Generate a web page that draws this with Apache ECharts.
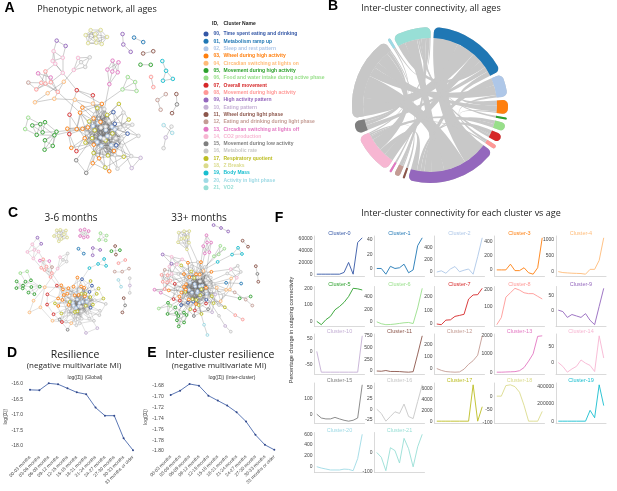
<!DOCTYPE html>
<html>
<head>
<meta charset="utf-8">
<title>Phenotypic network</title>
<script src="https://cdn.jsdelivr.net/npm/echarts@6.0.0/dist/echarts.min.js"></script>
<style>
html, body { margin: 0; padding: 0; background: #fff; }
#main { width: 617px; height: 491px; }
</style>
</head>
<body>
<div id="main"></div>
<script>
// clusters
var clusterIds = ['00','01','02','03','04','05','06','07','08','09','10','11','12','13','14','15','16','17','18','19','20','21'];
var clusterNames = ['Time spent eating and drinking', 'Metabolism ramp up', 'Sleep and rest pattern',
  'Wheel during high activity', 'Circadian switching at lights on', 'Movement during high activity',
  'Food and water intake during active phase', 'Overall movement', 'Movement during high activity',
  'High activity pattern', 'Eating pattern', 'Wheel during light phase', 'Eating and drinking during light phase',
  'Circadian switching at lights off', 'CO2 production', 'Movement during low activity', 'Metabolic rate',
  'Respiratory quotient', 'Z Breaks', 'Body Mass', 'Activity in light phase', 'VO2'];
var clusterColors = ['#3457a6','#1f77b4','#aec7e8','#ff7f0e','#ffbb78','#2ca02c','#98df8a','#d62728','#ff9896',
  '#9467bd','#c5b0d5','#8c564b','#c49c94','#e377c2','#f7b6d2','#7f7f7f','#c7c7c7','#bcbd22','#dbdb8d',
  '#17becf','#9edae5','#98dfd6'];

// network: node lists hold the cluster of each node, links are "i-j" pairs
var hairNodes = [2,2,2,2,2,2,2,2,2,2, 0,0,0,0, 17,17,17,17,17,17,17,17, 16,16,16,16,16,16,16,16,16,16,
  3,3,3,3,3,3,3,3,3,3, 7,7,7,7,7, 4,4,4,4,4,4, 10,10, 15,15,
  16,16,16,16,16,16,16,16, 17,17,17,17,17,17, 3,3,3,3,3,3];
var hairLinks = '0-1 0-2 0-3 0-4 1-2 1-5 2-3 2-6 3-4 3-7 4-5 4-8 5-6 5-9 6-7 7-8 8-9 9-0 1-6 2-7 3-8 4-9 ' +
  '0-14 1-15 2-16 3-17 4-18 5-19 6-20 7-21 14-15 15-16 16-17 17-18 18-19 19-20 20-21 14-18 15-19 16-20 ' +
  '0-22 1-23 2-24 3-25 4-26 5-27 6-28 7-29 8-30 9-31 22-23 23-24 24-25 25-26 26-27 27-28 28-29 29-30 30-31 22-26 24-28 27-31 ' +
  '0-32 2-33 4-34 6-35 8-36 1-37 3-38 5-39 7-40 9-41 32-33 33-34 34-35 35-36 36-37 37-38 38-39 39-40 40-41 32-36 34-38 ' +
  '10-11 11-12 12-13 10-0 11-3 12-35 13-33 42-43 43-44 44-45 45-46 42-5 43-7 44-36 45-40 46-9 ' +
  '47-48 48-49 49-50 50-51 51-52 47-24 48-30 47-29 52-49 53-22 54-25 53-54 55-14 56-20 55-56 55-32 ' +
  '14-32 21-37 22-14 31-42 28-47 16-34 19-39 25-15';
var hairDense = '0-23 0-25 0-27 1-22 1-24 1-26 2-25 2-28 2-30 3-22 3-29 3-31 4-23 4-27 4-30 5-22 5-24 5-29 ' +
  '6-25 6-31 6-23 7-24 7-26 7-30 8-22 8-27 8-29 9-23 9-26 9-28 0-15 0-17 1-14 1-19 2-18 2-21 3-14 3-20 ' +
  '4-16 4-21 5-15 5-17 6-18 6-14 7-16 7-19 8-20 8-15 9-17 9-21 0-33 0-36 1-34 1-39 2-35 2-40 3-32 3-41 ' +
  '4-37 4-39 5-33 5-38 6-32 6-40 7-34 7-41 8-35 8-38 9-36 9-37 23-16 24-17 25-19 26-21 27-15 28-18 ' +
  '29-20 14-33 16-35 18-37 20-39 22-32 24-34 26-36 28-38 30-40 31-41 10-2 10-5 11-7 12-9 13-4 10-20 ' +
  '11-37 12-39 13-16 57-0 57-22 58-1 58-23 59-2 59-25 60-3 60-27 61-4 61-29 62-5 62-31 63-6 63-24 64-7 ' +
  '64-26 57-58 59-60 61-62 63-64 65-14 65-0 66-15 66-2 67-16 67-4 68-18 68-6 69-19 69-8 70-21 70-9 65-66 ' +
  '67-68 69-70 71-32 71-1 72-34 72-3 73-36 73-5 74-38 74-7 75-40 75-9 76-41 76-0 71-72 73-74 75-76';
var greenNodes = [5,5,5,5,5,5,5,5,5,5,6,6];
var greenLinks = '0-1 1-2 2-3 3-0 0-2 1-3 3-4 4-5 5-6 6-3 4-6 5-7 6-7 7-8 8-9 9-7 8-2 10-4 11-6 10-11 9-5 1-8';
var pinkNodes = [8,8,8,8,8,8,14,14,14,14,14,13,13,12,9,9];
var pinkLinks = '0-1 1-2 2-3 3-4 4-5 5-0 0-3 1-4 2-5 6-7 7-8 8-9 9-10 10-6 6-8 7-9 3-6 4-10 11-12 12-2 11-1 13-5 13-0 14-15 14-9 15-8';
var oliveNodes = [18,18,18,18,18,18,18,18,18];
var oliveLinks = '0-1 0-2 0-3 0-4 1-2 1-3 1-5 2-3 2-4 2-6 3-4 3-5 3-7 4-5 4-6 4-8 5-6 5-7 5-8 6-7 6-8 7-8 0-8 1-7';
var magentaNodes = [13,13,13,13,13,13];
var magentaLinks = '0-1 1-2 2-3 3-4 4-5 5-0 0-3 1-4 2-5';
var greyPinkNodes = [14,14,16,16,16];
var greyPinkLinks = '0-1 1-2 2-3 3-4 4-0 0-2 1-3';
var lightGreenNodes = [6,6,6,6];
var lightGreenLinks = '0-1 1-2 2-3 3-0 0-2';
var smallNodes = [1,1, 9,9,9, 11,11, 5,5, 8,8, 19,19,19,19, 12,12,12, 11,15,11, 20,20, 16,10,16];
var smallLinks = '0-1 2-3 3-4 5-6 7-8 9-10 11-12 12-13 13-14 14-12 15-16 16-17 18-19 19-20 21-22 23-24 24-25';
var allAgesCross = 'H35-G3 H38-G8 H41-P2 H45-P6 H50-S0 H28-M0 H40-L0';
var earlyCross = 'H35-G3 H41-P2 H50-S0 H36-P0 H12-Q11';
var lateCross = 'H0-H20 H1-H25 H2-H30 H3-H35 H4-H40 H5-H45 H6-H50 H7-H15 H8-H22 H9-H33 H10-H28 H11-H39 ' +
  'H12-H17 H13-H44 H14-H36 H16-H41 H18-H27 H19-H31 H21-H47 H23-H38 H24-H42 H26-H51 H29-H34 H32-H49 ' +
  'H37-H52 H43-H53 H46-H55 H48-H56 H54-H19 H0-G0 H3-G5 H7-G9 H12-G2 H20-G7 H33-P0 H36-P4 H40-P9 ' +
  'H44-P12 H47-P7 H51-S2 H30-M3 H25-O0 H28-Q15 H22-Q23 H38-L0 H41-Q11 H9-P14 H15-P1 H5-G11 H2-Q0 ' +
  'H17-Q21 H34-P3 H39-P10 H27-M1 H31-S4 H35-G3 H41-P2 H50-S0 H45-P6 H60-P5 H62-G4 H66-G1 H70-P8 ' +
  'H72-P11 H74-S1 H76-M2 H58-O3 H64-Q7 H68-Q9 H61-L2 H73-P13';

// chord: arc order and [from, to, weight]
var chordOrder = [1,2,3,5,6,7,8,9,11,12,13,14,15,16,20,21];
var chordLinks = [[1,9,20],[1,16,15],[1,14,8],[1,21,6],[1,15,4],[1,3,4],
  [9,16,18],[9,21,10],[9,2,6],[9,6,3],[9,7,3],[9,14,5],
  [16,2,8],[16,3,5],[16,14,10],[16,15,3],[16,12,1],
  [2,8,2],[3,7,1],[5,21,1.5],[6,14,3],[7,21,2],[8,14,1],
  [11,14,1.5],[12,21,3],[13,21,1.5],[14,20,1],[15,21,2],[20,21,1]];

// D / E
var ages = ['00-03 months','03-06 months','06-09 months','09-12 months','12-15 months','15-18 months',
  '18-21 months','21-24 months','24-27 months','27-30 months','30-33 months','33 months or older'];
var resGlobal = [-16.19,-16.20,-15.98,-16.01,-16.14,-16.27,-16.33,-16.76,-17.02,-17.02,-17.75,-18.13];
var resInter = [-1.6966,-1.6886,-1.6763,-1.6794,-1.6978,-1.7070,-1.7162,-1.7285,-1.7456,-1.7702,-1.7886,-1.7978];
var resGlobalTicks = [-18,-17.5,-17,-16.5,-16];
var resInterTicks = [-1.80,-1.78,-1.76,-1.74,-1.72,-1.70,-1.68];

// F: percentage change per cluster
var cl00 = [0,0,0,0,0,0,3000,20000,0,54000,62000];
var cl01 = [0,0,-8,3,0,1,6,-6,-2,32,43];
var cl02 = [0,20,-20,50,90,5,30,50,-35,250,560];
var cl03 = [0,0,0,80,-10,-10,30,-40,-60,30,450];
var cl04 = [0,-30,-40,-50,-55,-60,-80,70,70,350,1050];
var cl05 = [0,-20,10,30,70,90,115,150,200,197,190];
var cl06 = [0,-30,-45,-42,-35,-25,-15,-10,-27,220,530];
var cl07 = [0,-5,28,30,55,62,70,180,210,212,258];
var cl08 = [0,40,155,180,205,195,180,175,175,160,145];
var cl09 = [0,-5,-25,-15,-20,-25,-12,-35,-50,13,75];
var cl10 = [0,-80,-80,-80,-80,-80,-80,-80,-80,-80,60];
var cl11 = [0,-5,10,-10,-10,-12,-20,-25,-15,360,750];
var cl12 = [0,-15,-25,-28,-30,-28,-5,35,65,110,270];
var cl13 = [0,0,10,20,30,80,250,600,1000,1950,1980];
var cl14 = [0,-12,-30,-20,-12,8,-2,-9,-28,83,14];
var cl15 = [0,-25,-31,-31,-21,-31,-40,-46,-40,-25,194];
var cl16 = [0,-10,-28,-17,-6,-10,12,-17,-22,18,57];
var cl17 = [0,0,0,0,0,0,0,0,6800,0,2700];
var cl18 = [0,0,40,43,36,15,-35,-95,-95,-95,-58];
var cl19 = [0,0,0,0,0,0,0,125000,40000,420000,180000];
var cl20 = [0,-25,-43,-61,-61,-61,-45,-50,-74,150,600];
var cl21 = [0,-25,-95,25,10,-55,74,20,-75,30,95];
var clusterSeries = [cl00,cl01,cl02,cl03,cl04,cl05,cl06,cl07,cl08,cl09,cl10,cl11,cl12,cl13,cl14,cl15,cl16,cl17,cl18,cl19,cl20,cl21];
var clusterTicks = [[0,20000,40000,60000],[0,20,40],[0,200,400],[0,200,400],[0,500,1000],[0,100,200],
  [0,200,400],[0,100,200],[100,200],[0,50],[-50,0,50],[0,250,500,750],[0,100,200],[0,1000,2000],[0,50],
  [0,100],[-25,0,25,50],[0,2000,4000,6000],[-100,-50,0],[0,200000,400000],[0,200,400,600],[-100,0]];

// small multiple layout
var smallCols = [314.5, 374.5, 434.5, 494.5, 556];
var smallRows = [236, 286.5, 334, 383, 432.5];

var myChart = echarts.init(document.getElementById('main'));

// nodes are drawn as rings: light centre, cluster-coloured outline
var categories = clusterIds.map(function (id, i) {
  return { name: id + ', ' + clusterNames[i], itemStyle: { color: '#f4f4f4', borderColor: clusterColors[i], borderWidth: 0.9 } };
});

var parts = [['H', hairNodes, hairLinks + ' ' + hairDense], ['G', greenNodes, greenLinks], ['P', pinkNodes, pinkLinks],
  ['O', oliveNodes, oliveLinks], ['M', magentaNodes, magentaLinks], ['S', greyPinkNodes, greyPinkLinks],
  ['L', lightGreenNodes, lightGreenLinks], ['Q', smallNodes, smallLinks]];

// links inside the giant component are given a weaker tie (longer edges)
function addLink(links, a, b) {
  links.push({ source: a, target: b, value: (a[0] === 'H' && b[0] === 'H') ? 1 : 2 });
}

function buildGraph(extra) {
  var nodes = [], links = [];
  parts.forEach(function (p) {
    p[1].forEach(function (c, i) { nodes.push({ name: p[0] + i, category: c }); });
    p[2].split(' ').forEach(function (s) {
      if (!s) return;
      var ab = s.split('-');
      addLink(links, p[0] + ab[0], p[0] + ab[1]);
    });
  });
  extra.split(' ').forEach(function (s) {
    if (!s) return;
    var ab = s.split('-');
    addLink(links, ab[0], ab[1]);
  });
  return { nodes: nodes, links: links };
}

function graphSeries(g, box, size, edge, f) {
  return {
    type: 'graph', layout: 'force', left: box[0], top: box[1], width: box[2], height: box[3],
    categories: categories, data: g.nodes, links: g.links, symbolSize: size,
    roam: false, silent: true, label: { show: false },
    force: { repulsion: f[0], edgeLength: f[1], gravity: f[2], friction: 0.6, layoutAnimation: false, initLayout: 'circular' },
    lineStyle: { color: '#6e6e6e', width: edge[0], opacity: edge[1], curveness: 0 }
  };
}

function txt(s, x, y, font, fill, align, rot) {
  return {
    type: 'text', x: x, y: y, rotation: rot || 0, silent: true,
    style: { text: s, font: font, fill: fill || '#222', align: align || 'center', verticalAlign: 'middle',
      textAlign: align || 'center', textVerticalAlign: 'middle' }
  };
}

var letter = 'bold 14px "Liberation Sans"';
var head = '9px "Open Sans"';
var texts = [
  txt('A', 9.5, 8, letter, '#000'), txt('Phenotypic network, all ages', 97, 9, head),
  txt('ID,', 212, 24, 'bold 5px "Liberation Sans"', '#222', 'left'),
  txt('Cluster Name', 223.5, 24, 'bold 5px "Liberation Sans"', '#222', 'left'),
  txt('B', 333, 6, letter, '#000'), txt('Inter-cluster connectivity, all ages', 431, 8.5, head),
  txt('C', 13, 213, letter, '#000'), txt('3-6 months', 71, 218, '10px "Open Sans"'),
  txt('33+ months', 199, 218, '10px "Open Sans"'),
  txt('D', 12, 353, letter, '#000'), txt('Resilience', 75, 355, '10.5px "Open Sans"'),
  txt('(negative multivariate MI)', 74, 366, '8px "Open Sans"'),
  txt('log(|Σ|) (Global)', 85, 378, '5px "Liberation Sans"', '#333'),
  txt('E', 152, 353, letter, '#000'), txt('Inter-cluster resilience', 220, 355, '10.5px "Open Sans"'),
  txt('(negative multivariate MI)', 219, 366, '8px "Open Sans"'),
  txt('log(|Σ|) (Inter-cluster)', 232, 378, '5px "Liberation Sans"', '#333'),
  txt('F', 279, 218, letter, '#000'), txt('Inter-cluster connectivity for each cluster vs age', 461, 213, head),
  txt('Percentage change in outgoing connectivity', 291, 330, '5.5px "Liberation Sans"', '#333', 'center', Math.PI / 2)
];

function padMin(e) { return e.min - (e.max - e.min) * 0.05; }
function padMax(e) { return e.max + (e.max - e.min) * 0.05; }

var grids = [
  { left: 30, top: 380, width: 103, height: 73.5 },
  { left: 170.7, top: 380.7, width: 103.6, height: 72.4 }
];
var labelFont = { fontSize: 5, color: '#444', fontFamily: 'Liberation Sans' };
var xAxes = [0, 1].map(function (g) {
  return {
    type: 'category', gridIndex: g, data: ages, boundaryGap: false,
    axisLine: { show: false }, axisTick: { show: false },
    axisLabel: { rotate: 45, interval: 0, fontSize: 4.6, color: '#444', margin: 3, fontFamily: 'Liberation Sans' }
  };
});
var yAxes = [
  { type: 'value', gridIndex: 0, min: padMin, max: padMax, axisLine: { show: false }, axisTick: { show: false },
    splitLine: { show: false },
    axisLabel: Object.assign({ customValues: resGlobalTicks, margin: 7, formatter: function (v) { return v.toFixed(1); } }, labelFont),
    name: 'log(|Σ|)', nameLocation: 'middle', nameGap: 19, nameRotate: 90, nameTextStyle: labelFont },
  { type: 'value', gridIndex: 1, min: padMin, max: padMax, axisLine: { show: false }, axisTick: { show: false },
    splitLine: { show: false },
    axisLabel: Object.assign({ customValues: resInterTicks, margin: 7, formatter: function (v) { return v.toFixed(2); } }, labelFont),
    name: 'log(|Σ|)', nameLocation: 'middle', nameGap: 19, nameRotate: 90, nameTextStyle: labelFont }
];
var series = [
  { type: 'line', xAxisIndex: 0, yAxisIndex: 0, data: resGlobal, symbol: 'circle', symbolSize: 2,
    lineStyle: { color: '#4a69ad', width: 0.9 }, itemStyle: { color: '#33498a' }, silent: true },
  { type: 'line', xAxisIndex: 1, yAxisIndex: 1, data: resInter, symbol: 'circle', symbolSize: 2,
    lineStyle: { color: '#4a69ad', width: 0.9 }, itemStyle: { color: '#33498a' }, silent: true }
];

clusterSeries.forEach(function (vals, i) {
  var g = grids.length;
  var left = smallCols[i % 5], top = smallRows[Math.floor(i / 5)];
  grids.push({ left: left, top: top, width: 50, height: 40 });
  texts.push(txt('Cluster-' + i, left + 25, top - 2.5, '5.5px "Liberation Sans"', clusterColors[i]));
  xAxes.push({ type: 'value', gridIndex: g, min: -0.5, max: 10.5,
    axisLine: { show: true, onZero: false, lineStyle: { color: '#d0d0d0', width: 0.8 } },
    axisTick: { show: false }, axisLabel: { show: false }, splitLine: { show: false } });
  yAxes.push({ type: 'value', gridIndex: g, min: padMin, max: padMax,
    axisLine: { show: true, onZero: false, lineStyle: { color: '#d0d0d0', width: 0.8 } },
    axisTick: { show: false }, splitLine: { show: false },
    axisLabel: Object.assign({ customValues: clusterTicks[i], margin: 2, formatter: function (v) { return String(v); } }, labelFont) });
  series.push({ type: 'line', xAxisIndex: g, yAxisIndex: g, silent: true, showSymbol: false,
    data: vals.map(function (v, k) { return [k, v]; }),
    lineStyle: { color: clusterColors[i], width: 0.9 }, itemStyle: { color: clusterColors[i] } });
});

series.push(graphSeries(buildGraph(allAgesCross), [14, 20, 172, 172], 3.6, [0.4, 0.85], [3.4, [10, 16], 0.15]));
series.push(graphSeries(buildGraph(earlyCross), [16, 228, 116, 108], 2.8, [0.3, 0.7], [2.2, [7, 11], 0.18]));
series.push(graphSeries(buildGraph(lateCross), [142, 228, 118, 108], 2.8, [0.35, 0.85], [2.2, [7, 11], 0.18]));

// chord: grey ribbons underneath, coloured arcs on top (same layout)
function chordSeries(colorFn, linkStyle, z) {
  return {
    type: 'chord', center: [430, 105], radius: [67, 78], startAngle: 87, padAngle: 2.5, clockwise: true,
    silent: true, label: { show: false }, z: z,
    itemStyle: { borderWidth: 0 },
    lineStyle: linkStyle,
    data: chordOrder.map(function (c) { return { name: 'c' + clusterIds[c], itemStyle: { color: colorFn(c) } }; }),
    links: chordLinks.map(function (l) {
      return { source: 'c' + clusterIds[l[0]], target: 'c' + clusterIds[l[1]], value: l[2] };
    })
  };
}
series.push(chordSeries(function () { return '#c8c8c8'; }, { color: 'source', opacity: 1 }, 2));
series.push(chordSeries(function (c) { return clusterColors[c]; }, { color: 'source', opacity: 0 }, 3));

var option = {
  animation: false,
  legend: {
    orient: 'vertical', left: 203.5, top: 31.5, itemWidth: 5, itemHeight: 5, itemGap: 2.32, padding: 0,
    selectedMode: false, icon: 'circle',
    data: categories.map(function (c, i) {
      return { name: c.name, itemStyle: { color: clusterColors[i], borderWidth: 0 }, textStyle: { color: clusterColors[i] } };
    }),
    formatter: function (name) {
      var k = name.indexOf(', ');
      return '{id|' + name.slice(0, k + 1) + '}{nm|' + name.slice(k + 2) + '}';
    },
    textStyle: { fontSize: 5, fontWeight: 'bold', fontFamily: 'Liberation Sans', lineHeight: 5,
      rich: { id: { width: 10, fontSize: 5, fontWeight: 'bold', lineHeight: 5 },
        nm: { fontSize: 5, fontWeight: 'bold', lineHeight: 5 } } }
  },
  graphic: texts,
  grid: grids,
  xAxis: xAxes,
  yAxis: yAxes,
  series: series
};
myChart.setOption(option);
</script>
</body>
</html>
